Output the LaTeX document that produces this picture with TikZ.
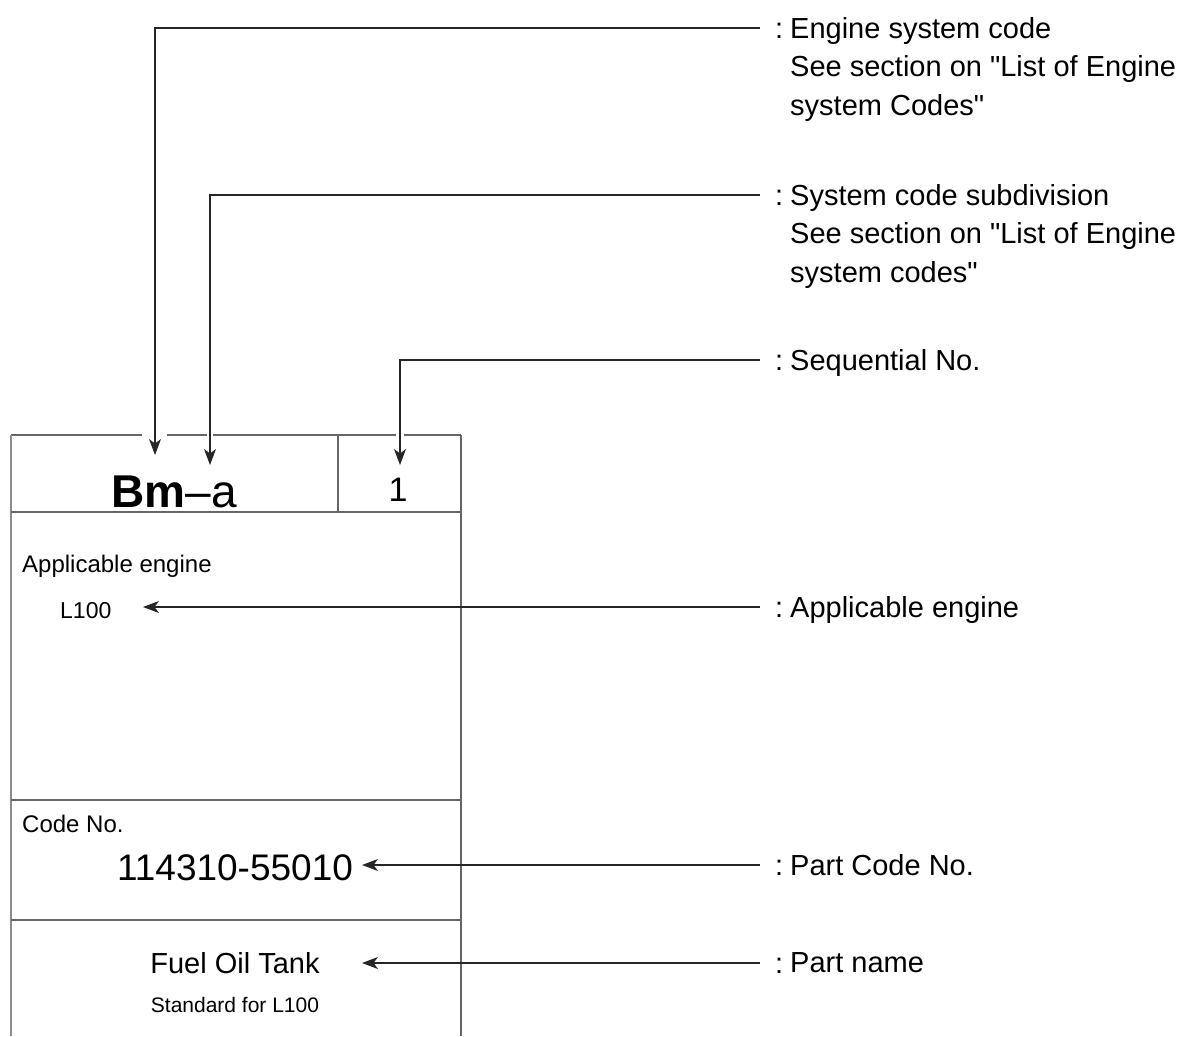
\documentclass[tikz,border=0pt]{standalone}
\usepackage{fontspec}
\setmainfont{Liberation Sans}[Ligatures=TeXOff]
\usetikzlibrary{arrows.meta,calc}

\begin{document}
\begin{tikzpicture}[
  x=1pt, y=-1pt,
  frame/.style={draw=black!60, line width=1.1pt},
  arr/.style={-{Stealth[length=16pt,width=12pt,inset=4.5pt]}, line width=1.1pt, black!85},
  lbl/.style={anchor=north west, align=left, inner sep=0pt, font=\fontsize{29}{38.5}\selectfont},
  colon/.style={anchor=base west, inner sep=0pt, font=\fontsize{29}{38.5}\selectfont},
  small/.style={inner sep=0pt, font=\fontsize{24}{24}\selectfont}
]
\useasboundingbox (0,0) rectangle (1183,1036);

% card frame (top edge broken where the arrows come in)
\draw[frame] (11,435) -- (142,435) (167,435) -- (207,435) (213,435) -- (396,435) (404,435) -- (461,435);
\draw[frame, draw=black!45] (11,435) -- (11,1036);
\draw[frame] (461,435) -- (461,1036);
\draw[frame] (338,435) -- (338,512);
\draw[frame] (11,512) -- (461,512);
\draw[frame] (11,800) -- (461,800);
\draw[frame] (11,920) -- (461,920);

% card text
\node[inner sep=0pt, font=\fontsize{46}{46}\selectfont] (code) at (174,492) {\textbf{Bm}–a};
\node[inner sep=0pt, font=\fontsize{34}{34}\selectfont] (seq) at (398,490) {1};
\node[small, anchor=west] (apphead) at (22,566) {Applicable engine};
\node[small, anchor=west, font=\fontsize{23}{23}\selectfont] (eng) at (60,611) {L100};
\node[small, anchor=west] (codehead) at (22,824) {Code No.};
\node[inner sep=0pt, font=\fontsize{37}{37}\selectfont] (partno) at (235,868) {114310-55010};
\node[inner sep=0pt, font=\fontsize{29}{29}\selectfont] (partname) at (235,963) {Fuel Oil Tank};
\node[inner sep=0pt, font=\fontsize{21}{21}\selectfont] (std) at (235,1005) {Standard for L100};

% explanations
\coordinate (k1) at (760,28);
\coordinate (k2) at (760,195);
\coordinate (k3) at (760,360);
\coordinate (k4) at (760,607);
\coordinate (k5) at (760,865);
\coordinate (k6) at (760,963);
\node[colon] (c1) at (775,38) {:};
\node[colon] (c2) at (775,205) {:};
\node[colon] (c3) at (775,370) {:};
\node[colon] (c4) at (775,617) {:};
\node[colon] (c5) at (775,875) {:};
\node[colon] (c6) at (775,973) {:};
\node[lbl] (sys) at (790,17) {Engine system code\\See section on "List of Engine\\system Codes"};
\node[lbl] (sub) at (790,184) {System code subdivision\\See section on "List of Engine\\system codes"};
\node[lbl] (seqno) at (790,349) {Sequential No.};
\node[lbl] (appeng) at (790,596) {Applicable engine};
\node[lbl] (pcode) at (790,854) {Part Code No.};
\node[lbl] (pname) at (790,952) {Part name};

% arrow tips
\coordinate (t1) at (155,455);
\coordinate (t2) at (210,465);
\coordinate (t3) at (400,465);
\coordinate (t4) at (143,607);
\coordinate (t5) at (362,865);
\coordinate (t6) at (362,963);

\draw[arr] (k1) -| (t1);
\draw[arr] (k2) -| (t2);
\draw[arr] (k3) -| (t3);
\draw[arr] (k4) -- (t4);
\draw[arr] (k5) -- (t5);
\draw[arr] (k6) -- (t6);
\end{tikzpicture}
\end{document}
